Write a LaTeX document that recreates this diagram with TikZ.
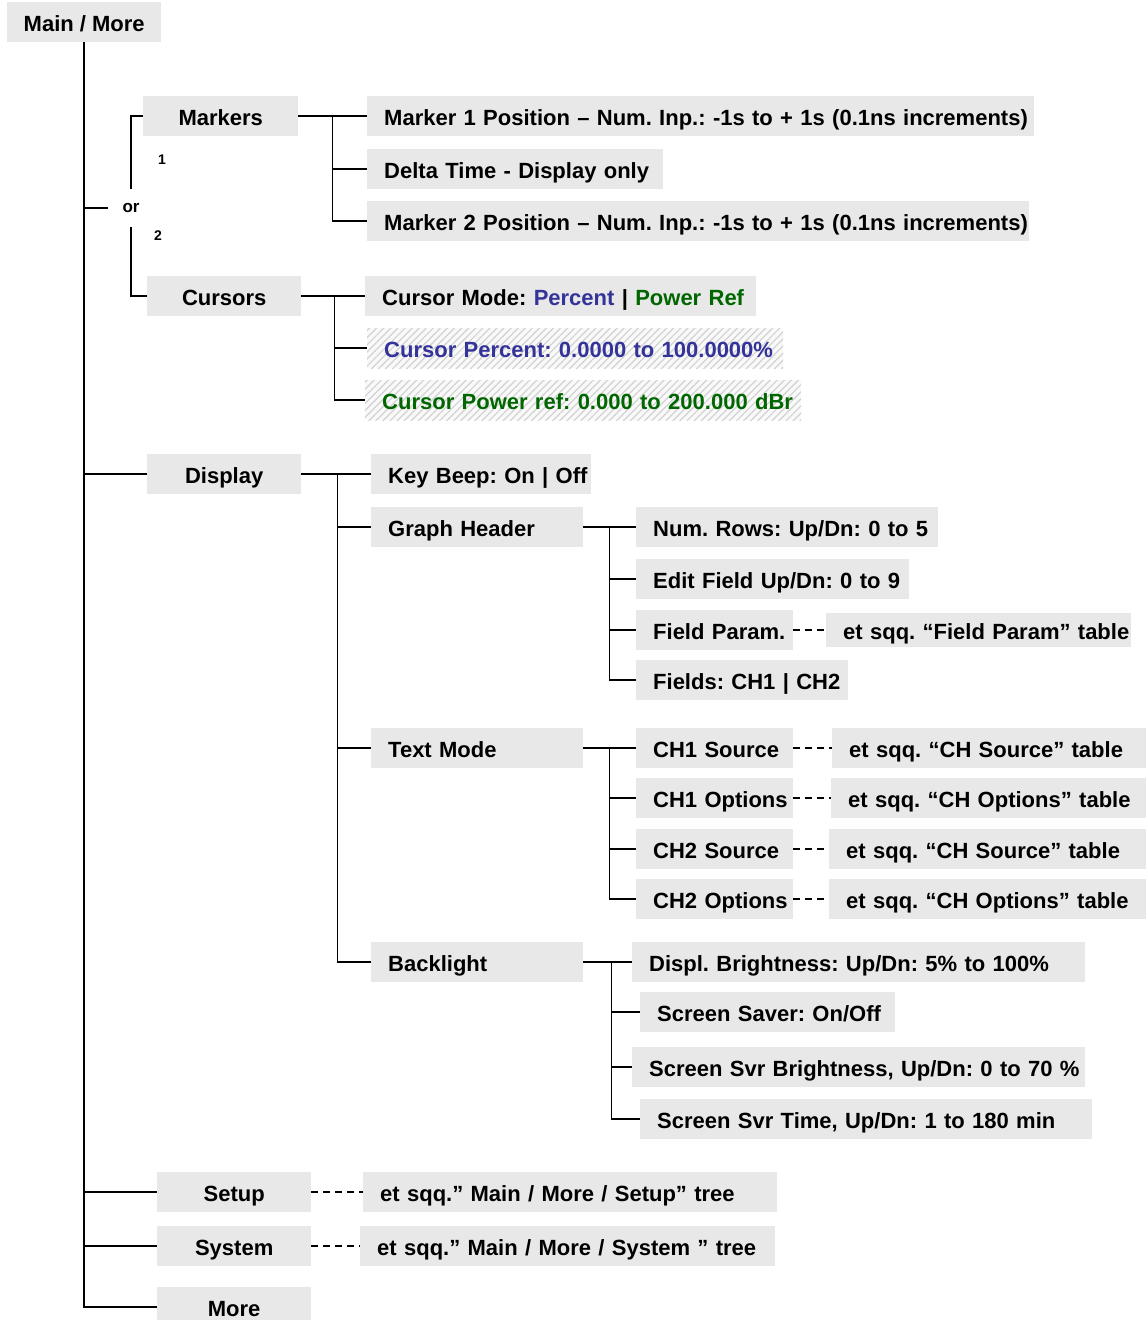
\documentclass[tikz,border=0pt]{standalone}
\usepackage{fontspec}
\setmainfont{Liberation Sans}
\usepackage{xcolor}
\usetikzlibrary{patterns.meta}
\definecolor{boxgray}{HTML}{E8E8E8}
\definecolor{cblue}{HTML}{333399}
\definecolor{cgreen}{HTML}{006600}
\frenchspacing

\begin{document}
\begin{tikzpicture}[x=1pt, y=-1pt,
    every node/.style={font=\fontsize{22}{26}\selectfont\bfseries},
    box/.style={fill=boxgray, minimum height=40pt, inner sep=0pt, anchor=west,
        text height=22pt, text depth=4pt},
    head/.style={box, minimum width=154pt},
    leaf/.style={box, text width=#1, align=left, inner xsep=17pt,
        execute at begin node={\hbox to 0pt\bgroup}, execute at end node={\hss\egroup}},
    hatch/.style={fill=gray!5, postaction={pattern={Lines[angle=45,distance=5pt,line width=1.2pt]},
        pattern color=gray!35}},
    small/.style={font=\fontsize{14}{16}\selectfont\bfseries},
    link/.style={line width=1.8pt},
    thinlink/.style={line width=1.4pt},
    ref/.style={line width=1.2pt, dash pattern=on 7pt off 5pt}]

    \useasboundingbox (0,0) rectangle (1146,1320);

    % left column
    \node[head] (main) at (7,22) {Main / More};
    \node[head, minimum width=155pt] (markers) at (143,116) {Markers};
    \node[head] (cursors) at (147,296) {Cursors};
    \node[head] (display) at (147,474) {Display};
    \node[head] (setup) at (157,1192) {Setup};
    \node[head] (system) at (157,1246) {System};
    \node[head] (more) at (157,1307) {More};
    \node[font=\fontsize{17}{20}\selectfont\bfseries, minimum height=38pt, inner xsep=14pt] (or) at (131,208) {or};
    \node[small] (one) at (162,160) {1};
    \node[small] (two) at (158,236) {2};

    % markers / cursors
    \node[leaf=633pt] (mk1) at (367,116) {Marker 1 Position – Num. Inp.: -1s to + 1s (0.1ns increments)};
    \node[leaf=262pt] (dtime) at (367,169) {Delta Time - Display only};
    \node[leaf=628pt] (mk2) at (367,221) {Marker 2 Position – Num. Inp.: -1s to + 1s (0.1ns increments)};
    \node[leaf=357pt] (cmode) at (365,296) {Cursor Mode: \textcolor{cblue}{Percent} | \textcolor{cgreen}{Power Ref}};
    \node[leaf=382pt, hatch, text=cblue] (cpct) at (367,348) {Cursor Percent: 0.0000 to 100.0000\%};
    \node[leaf=402pt, hatch, text=cgreen] (cpow) at (365,400) {Cursor Power ref: 0.000 to 200.000 dBr};

    % display
    \node[leaf=186pt] (beep) at (371,474) {Key Beep: On | Off};
    \node[leaf=178pt] (ghdr) at (371,527) {Graph Header};
    \node[leaf=178pt] (tmode) at (371,748) {Text Mode};
    \node[leaf=178pt] (blight) at (371,962) {Backlight};

    \node[leaf=268pt] (rows) at (636,527) {Num. Rows: Up/Dn: 0 to 5};
    \node[leaf=239pt] (edit) at (636,579) {Edit Field Up/Dn: 0 to 9};
    \node[leaf=123pt] (fparam) at (636,630) {Field Param.};
    \node[leaf=271pt, minimum height=34pt] (fparamref) at (826,630) {et sqq. “Field Param” table};
    \node[leaf=178pt] (fields) at (636,680) {Fields: CH1 | CH2};

    \node[leaf=123pt] (ch1src) at (636,748) {CH1 Source};
    \node[leaf=280pt] (ch1srcref) at (832,748) {et sqq. “CH Source” table};
    \node[leaf=123pt] (ch1opt) at (636,798) {CH1 Options};
    \node[leaf=281pt] (ch1optref) at (831,798) {et sqq. “CH Options” table};
    \node[leaf=123pt] (ch2src) at (636,849) {CH2 Source};
    \node[leaf=283pt] (ch2srcref) at (829,849) {et sqq. “CH Source” table};
    \node[leaf=123pt] (ch2opt) at (636,899) {CH2 Options};
    \node[leaf=283pt] (ch2optref) at (829,899) {et sqq. “CH Options” table};

    \node[leaf=419pt] (bright) at (632,962) {Displ. Brightness: Up/Dn: 5\% to 100\%};
    \node[leaf=221pt] (saver) at (640,1012) {Screen Saver: On/Off};
    \node[leaf=419pt] (svrbright) at (632,1067) {Screen Svr Brightness, Up/Dn: 0 to 70 \%};
    \node[leaf=418pt] (svrtime) at (640,1119) {Screen Svr Time, Up/Dn: 1 to 180 min};

    \node[leaf=380pt] (setupref) at (363,1192) {et sqq.” Main / More / Setup” tree};
    \node[leaf=381pt] (systemref) at (360,1246) {et sqq.” Main / More / System ” tree};

    % trunk
    \draw[link] (main.south) |- (more.west);
    \draw[link] (main.south |- display.west) -- (display.west);
    \draw[link] (main.south |- setup.west) -- (setup.west);
    \draw[link] (main.south |- system.west) -- (system.west);
    \draw[thinlink] (main.south |- or.west) -- (or.west);
    \draw[thinlink] (or.north) |- (markers.west);
    \draw[thinlink] (or.south) |- (cursors.west);

    % branches
    \coordinate (mkj) at ([xshift=34pt]markers.east);
    \draw[link] (markers.east) -- (mk1.west);
    \draw[link] (mkj) |- (dtime.west) (mkj) |- (mk2.west);

    \coordinate (crj) at ([xshift=33pt]cursors.east);
    \draw[link] (cursors.east) -- (cmode.west);
    \draw[link] (crj) |- (cpct.west) (crj) |- (cpow.west);

    \coordinate (dpj) at ([xshift=36pt]display.east);
    \draw[link] (display.east) -- (beep.west);
    \draw[link] (dpj) |- (ghdr.west) (dpj) |- (tmode.west) (dpj) |- (blight.west);

    \coordinate (ghj) at ([xshift=26pt]ghdr.east);
    \draw[link] (ghdr.east) -- (rows.west);
    \draw[link] (ghj) |- (edit.west) (ghj) |- (fparam.west) (ghj) |- (fields.west);

    \coordinate (tmj) at ([xshift=26pt]tmode.east);
    \draw[link] (tmode.east) -- (ch1src.west);
    \draw[link] (tmj) |- (ch1opt.west) (tmj) |- (ch2src.west) (tmj) |- (ch2opt.west);

    \coordinate (blj) at ([xshift=28pt]blight.east);
    \draw[link] (blight.east) -- (bright.west);
    \draw[link] (blj) |- (saver.west) (blj) |- (svrbright.west) (blj) |- (svrtime.west);

    % cross references
    \draw[ref] (fparam.east) -- (fparamref.west);
    \draw[ref] (ch1src.east) -- (ch1srcref.west);
    \draw[ref] (ch1opt.east) -- (ch1optref.west);
    \draw[ref] (ch2src.east) -- (ch2srcref.west);
    \draw[ref] (ch2opt.east) -- (ch2optref.west);
    \draw[ref] (setup.east) -- (setupref.west);
    \draw[ref] (system.east) -- (systemref.west);

\end{tikzpicture}
\end{document}
